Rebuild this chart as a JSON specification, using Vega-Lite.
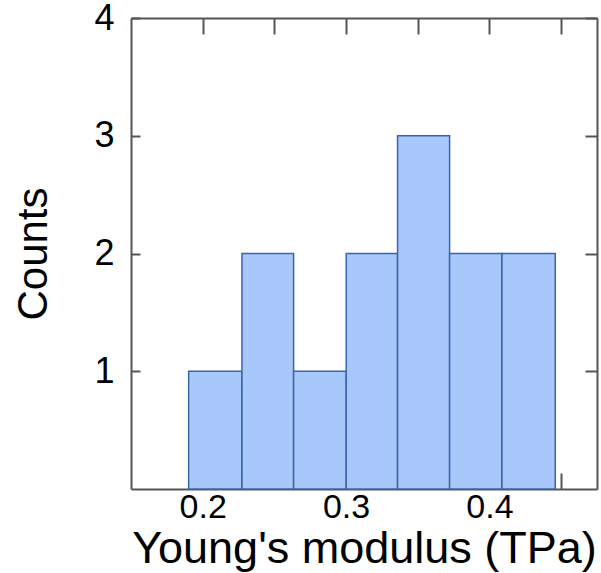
{
  "$schema": "https://vega.github.io/schema/vega-lite/v6.json",
  "width": 466,
  "height": 471,
  "autosize": {"type": "none"},
  "padding": {"left": 131, "top": 18, "right": 4, "bottom": 84},
  "background": "white",
  "config": {
    "view": {"stroke": null},
    "font": "Liberation Sans",
    "axis": {
      "domainColor": "#555555",
      "domainWidth": 2,
      "tickColor": "#555555",
      "tickWidth": 2,
      "grid": false,
      "labelFont": "Liberation Sans",
      "titleFont": "Liberation Sans",
      "labelFontSize": 34,
      "titleFontSize": 42,
      "labelColor": "black",
      "titleColor": "black",
      "titleFontWeight": "normal"
    }
  },
  "data": {
    "values": [
      {"bin_start": 0.1902, "bin_end": 0.2274, "count": 1},
      {"bin_start": 0.2274, "bin_end": 0.2634, "count": 2},
      {"bin_start": 0.2634, "bin_end": 0.3001, "count": 1},
      {"bin_start": 0.3001, "bin_end": 0.3359, "count": 2},
      {"bin_start": 0.3359, "bin_end": 0.3722, "count": 3},
      {"bin_start": 0.3722, "bin_end": 0.4087, "count": 2},
      {"bin_start": 0.4087, "bin_end": 0.4459, "count": 2}
    ]
  },
  "layer": [
    {
      "mark": {"type": "bar", "fill": "#a8c8fb", "stroke": "#3a64b0", "strokeWidth": 1.5},
      "encoding": {
        "x": {
          "field": "bin_start", "type": "quantitative",
          "scale": {"domain": [0.15, 0.475], "nice": false, "zero": false},
          "axis": {
            "orient": "bottom",
            "values": [0.2, 0.25, 0.3, 0.35, 0.4, 0.45],
            "labelExpr": "(abs(datum.value*10 - round(datum.value*10)) < 0.01) ? format(datum.value, '.1f') : ''",
            "tickSize": -16,
            "labelPadding": 17,
            "title": "Young's modulus (TPa)",
            "titleFontSize": 45,
            "titlePadding": 2
          }
        },
        "x2": {"field": "bin_end"},
        "y": {
          "field": "count", "type": "quantitative",
          "scale": {"domain": [0, 4], "nice": false},
          "axis": {
            "orient": "left",
            "values": [1, 2, 3, 4],
            "tickSize": -9,
            "labelPadding": 26,
            "labelFontSize": 36,
            "title": "Counts",
            "titlePadding": 38
          }
        },
        "y2": {"datum": 0}
      }
    },
    {
      "mark": {"type": "bar", "opacity": 0},
      "encoding": {
        "x": {
          "field": "bin_start", "type": "quantitative",
          "axis": {
            "orient": "top",
            "values": [0.2, 0.25, 0.3, 0.35, 0.4, 0.45],
            "labels": false,
            "tickSize": -16,
            "title": null
          }
        },
        "x2": {"field": "bin_end"},
        "y": {
          "field": "count", "type": "quantitative",
          "axis": {
            "orient": "right",
            "values": [1, 2, 3, 4],
            "labels": false,
            "tickSize": -12,
            "title": null
          }
        },
        "y2": {"datum": 0}
      }
    }
  ],
  "resolve": {"axis": {"x": "independent", "y": "independent"}}
}
